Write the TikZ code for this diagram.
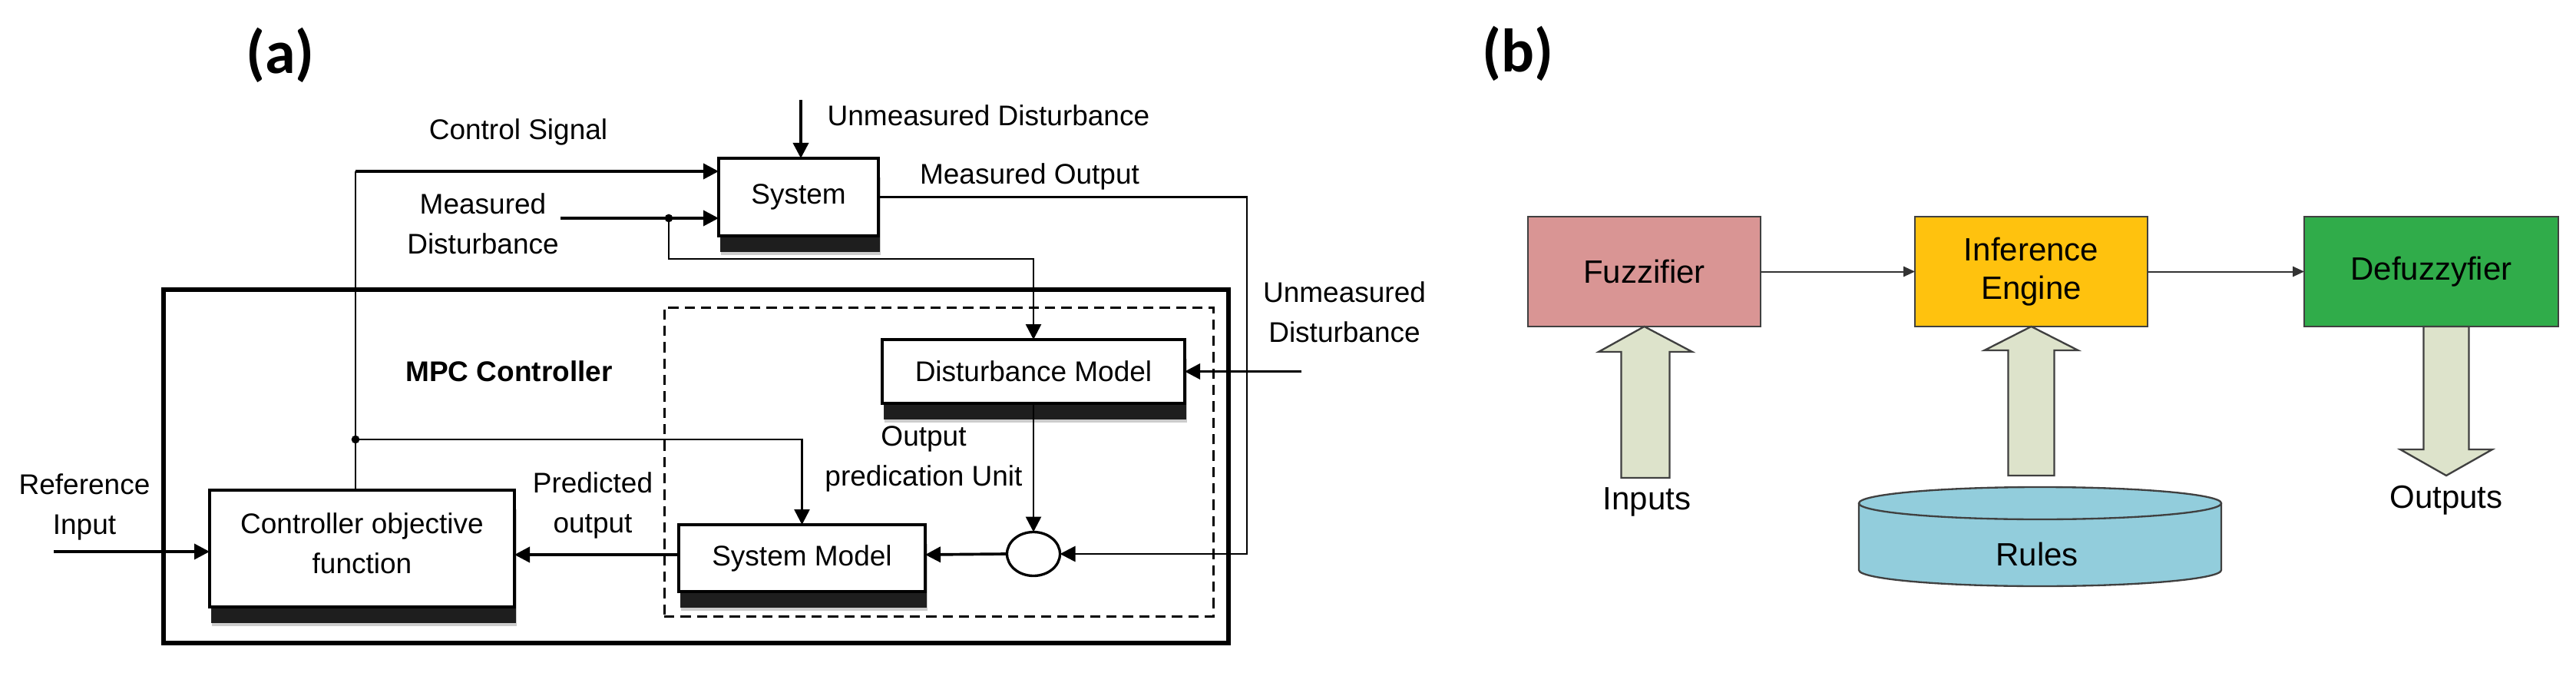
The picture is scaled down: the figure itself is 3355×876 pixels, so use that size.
\documentclass[tikz,border=0pt]{standalone}
\usepackage{fontspec}
\setmainfont{Liberation Sans}
\newfontfamily\labfont{Carlito}
\usetikzlibrary{arrows.meta,shadows,shapes.geometric}
\definecolor{fuzzc}{HTML}{D99594}
\definecolor{infc}{HTML}{FFC20E}
\definecolor{defc}{HTML}{30AC4A}
\definecolor{rulesc}{HTML}{92CDDC}
\definecolor{barc}{HTML}{DDE3CB}
\begin{document}
\begin{tikzpicture}[x=0.3pt,y=-0.3pt,
  blk/.style={draw, line width=1pt, fill=white, inner sep=0pt, outer sep=0pt,
    font=\fontsize{11.1}{15.6}\selectfont, align=center,
    drop shadow={shadow xshift=0.8pt, shadow yshift=-7.5pt, opacity=0.2, fill=black},
    drop shadow={shadow xshift=0.6pt, shadow yshift=-6.2pt, opacity=0.85, fill=black}},
  lbl/.style={font=\fontsize{11.1}{15.6}\selectfont, align=center, inner sep=0pt},
  arr/.style={-{Triangle[length=6pt,width=6pt]}, line width=1.1pt},
  thinarr/.style={-{Triangle[length=6pt,width=6pt]}, line width=0.8pt},
  thinline/.style={line width=0.6pt},
  bbox/.style={draw=black!75, line width=0.8pt, inner sep=0pt, outer sep=0pt,
    minimum width=90.9pt, minimum height=42.9pt,
    font=\fontsize{12.6}{15}\selectfont, align=center},
  btxt/.style={font=\fontsize{12.6}{15}\selectfont, inner sep=0pt},
  barrow/.style={draw=black!75, line width=0.7pt, fill=barc, line join=miter},
  smallarr/.style={-{Triangle[length=4.5pt,width=4pt]}, line width=0.6pt, draw=black!80},
  cyl/.style={draw=black!75, line width=0.7pt},
  panel/.style={font=\labfont\bfseries\fontsize{24}{28}\selectfont, inner sep=0pt}
]
\useasboundingbox (0,0) rectangle (3355,876);
\fill[white] (0,0) rectangle (3355,876);

% ---------------- (a) ----------------
\node[panel] (la) at (365,72) {(a)};

% frames
\node[draw, line width=2pt, inner sep=0pt, outer sep=0pt,
      minimum width=416.1pt, minimum height=138pt] (mpc) at (906.5,607) {};
\node[draw, dashed, dash pattern=on 4pt off 2.4pt, line width=0.9pt, inner sep=0pt, outer sep=0pt,
      minimum width=214.5pt, minimum height=120.6pt] (opu) at (1222.5,601) {};

% blocks
\node[blk, minimum width=62.4pt, minimum height=30.3pt] (sys) at (1040,256.5) {System};
\node[blk, minimum width=118.2pt, minimum height=24.9pt] (dm) at (1346,483.5) {Disturbance Model};
\node[blk, minimum width=96.3pt, minimum height=26.1pt] (sm) at (1044.5,726.5) {System Model};
\node[blk, minimum width=119.1pt, minimum height=45.6pt] (cof) at (471.5,714) {};
\node[lbl] (coftext) at (471.5,707) {Controller objective\\function};
\node[draw, ellipse, line width=1pt, fill=white, minimum width=20.7pt, minimum height=17.1pt,
      inner sep=0pt, outer sep=0pt] (sum) at (1346,721) {};

% coordinates
\coordinate (j1) at (463,572);
\coordinate (j2) at (871,284);
\coordinate (csturn) at (463,223);
\coordinate (mdstart) at (730,284);
\coordinate (dmturn) at (871,337);
\coordinate (ud) at (1043,130);
\coordinate (mo) at (1624,256.5);
\coordinate (ud2) at (1695,483.5);
\coordinate (ref) at (70,718);
\coordinate (smturn) at (1044.5,572);
\coordinate (pl) at (1300,722);

% connectors
\draw[thinline] (cof.north -| j1) -- (csturn);
\draw[arr] (csturn) -- (csturn -| sys.west);
\draw[arr] (mdstart) -- (mdstart -| sys.west);
\draw[thinarr] (j2) -- (dmturn) -- (dmturn -| dm.north) -- (dm.north);
\draw[arr] (ud) -- (ud |- sys.north);
\draw[thinarr] (sys.east) -- (mo) -- (mo |- sum.east) -- (sum.east);
\draw[arr] (ud2) -- (dm.east);
\draw[thinarr] (dm.south) -- (sum.north);
\draw[arr] (sum.west) -- (pl -| sm.east);
\draw[arr] (pl -| sm.west) -- (pl -| cof.east);
\draw[thinarr] (j1) -- (smturn) -- (sm.north);
\draw[arr] (ref) -- (ref -| cof.west);
\fill (j1) circle (1.6pt);
\fill (j2) circle (1.6pt);

% labels
\node[lbl] (tcs) at (675,172) {Control Signal};
\node[lbl, anchor=west] (tud) at (1077,150) {Unmeasured Disturbance};
\node[lbl] (tmd) at (629,291.5) {Measured\\Disturbance};
\node[lbl] (tmo) at (1341,230) {Measured Output};
\node[lbl] (tud2) at (1751,406) {Unmeasured\\Disturbance};
\node[lbl, font=\fontsize{11.1}{15.6}\selectfont\bfseries] (tmpc) at (663,483) {MPC Controller};
\node[lbl] (tref) at (110,660) {Reference\\Input};
\node[lbl] (tpo) at (772,657.5) {Predicted\\output};
\node[lbl] (topu) at (1203,597) {Output\\predication Unit};

% ---------------- (b) ----------------
\node[panel] (lb) at (1977,70) {(b)};

\node[bbox, fill=fuzzc] (fz) at (2141.5,353.5) {Fuzzifier};
\node[bbox, fill=infc] (ie) at (2645.5,353.5) {Inference\\Engine};
\node[bbox, fill=defc, minimum width=99.3pt] (df) at (3166.5,353.5) {Defuzzyfier};
\draw[smallarr] (fz.east) -- (ie.west);
\draw[smallarr] (ie.east) -- (df.west);

% block arrows
\draw[barrow] (fz.south) -- (2204,458) -- (2174.5,458) -- (2174.5,622) -- (2111.5,622)
  -- (2111.5,458) -- (2082,458) -- cycle;
\draw[barrow] (ie.south) -- (2706.5,456) -- (2675.5,456) -- (2675.5,619) -- (2615.5,619)
  -- (2615.5,456) -- (2584.5,456) -- cycle;
\draw[barrow] (3156.5,425) -- (3215.5,425) -- (3215.5,585) -- (3246,585) -- (3186,619)
  -- (3126,585) -- (3156.5,585) -- cycle;

% rules cylinder
\fill[rulesc] (2421,655) rectangle (2893,742);
\fill[rulesc] (2657,742) ellipse [x radius=70.8pt, y radius=6.3pt];
\draw[cyl] (2421,655) -- (2421,742) arc[start angle=180, end angle=360, x radius=70.8pt, y radius=6.3pt] -- (2893,655);
\draw[cyl, fill=rulesc] (2657,655) ellipse [x radius=70.8pt, y radius=6.3pt];
\node[btxt] (rules) at (2653,721) {Rules};

\node[btxt] (tin) at (2145,653) {Inputs};
\node[btxt] (tout) at (3186,651) {Outputs};
\end{tikzpicture}
\end{document}
